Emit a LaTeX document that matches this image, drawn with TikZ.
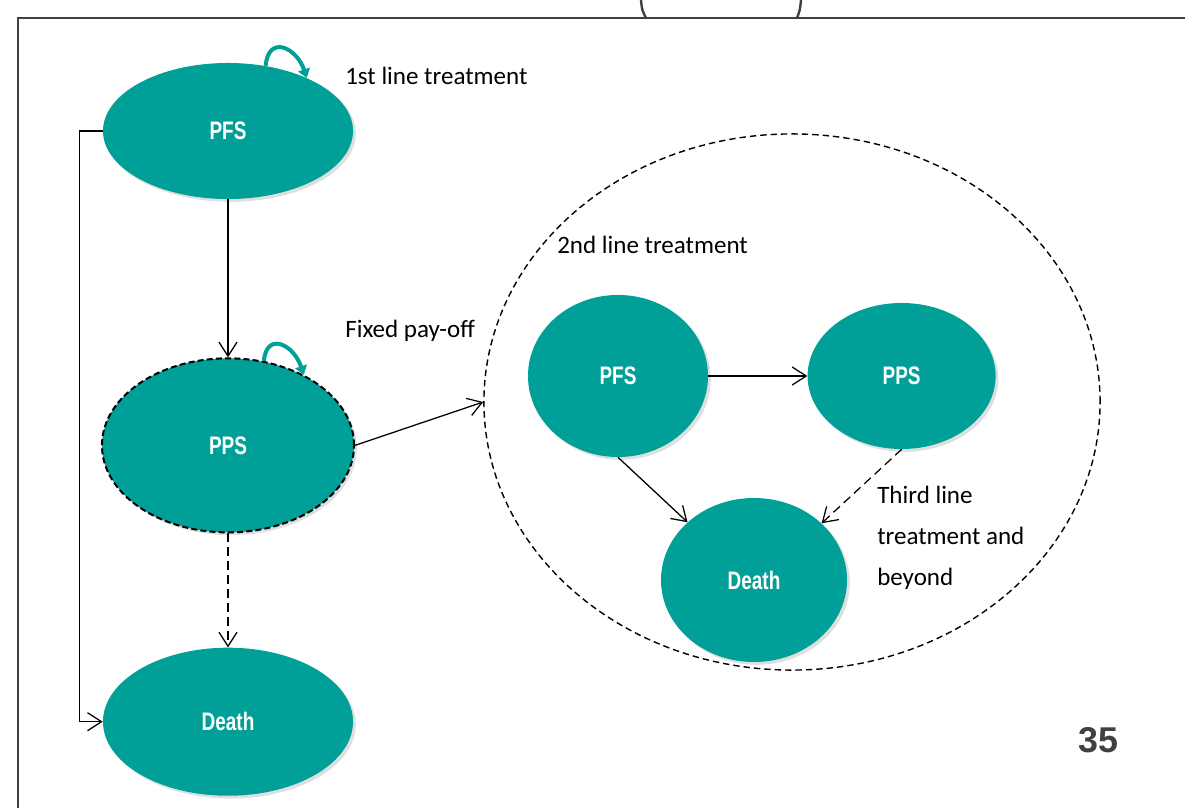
\documentclass[tikz,border=0pt]{standalone}
\usepackage{fontspec}
\setmainfont{Carlito}
\newfontfamily\statefont[FakeStretch=0.75]{Liberation Sans}
\newfontfamily\pagenumfont{Liberation Sans}
\usepackage{tikz}
\usetikzlibrary{shapes.geometric,arrows.meta,positioning,shadows}
\definecolor{stateteal}{HTML}{00A099}
\definecolor{framegray}{HTML}{404040}

\begin{document}
\begin{tikzpicture}[
    x=0.025cm, y=-0.025cm,
    state/.style={ellipse, fill=stateteal, text=white, inner sep=0pt,
                  font=\statefont\bfseries\fontsize{18}{20}\selectfont,
                  drop shadow={shadow xshift=0.07cm, shadow yshift=-0.07cm, opacity=0.25}},
    lbl/.style={inner sep=0pt, font=\fontsize{17.8}{29}\selectfont},
    arrow/.style={-{Straight Barb[length=0.35cm,width=0.45cm]}, line width=0.9pt},
    dasharrow/.style={arrow, dash pattern=on 0.22cm off 0.13cm},
    selfloop/.style={-{Triangle[length=0.22cm,width=0.3cm]}, line width=0.1cm, stateteal},
    pageframe/.style={line width=0.06cm, framegray},
  ]
    \useasboundingbox (0,0) rectangle (1185,808);

    % slide frame
    \draw[pageframe] (18,808) -- (18,18) -- (1185,18);
    \draw[pageframe] (641,0) .. controls (642,10) .. (646,18);
    \draw[pageframe] (801,0) .. controls (800,10) .. (797,18);

    % first line
    \node[state, minimum width=6.25cm, minimum height=3.4cm] (pfs1) at (228,131) {PFS};
    \node[state, minimum width=6.3cm, minimum height=4.35cm, draw=black,
          line width=0.05cm, dash pattern=on 0.15cm off 0.08cm,
          below=3.95cm of pfs1] (pps1) {PPS};
    \node[state, minimum width=6.25cm, minimum height=3.7cm,
          below=2.85cm of pps1] (death1) {Death};

    % second line
    \node[ellipse, draw, line width=0.035cm, dash pattern=on 0.16cm off 0.1cm,
          minimum width=15.4cm, minimum height=13.4cm] (grp) at (792,402) {};
    \node[state, minimum width=4.5cm, minimum height=4.05cm] (pfs2) at (618,376) {PFS};
    \node[state, minimum width=4.7cm, minimum height=3.65cm,
          right=2.475cm of pfs2] (pps2) {PPS};
    \node[state, minimum width=4.65cm, minimum height=4.1cm] (death2) at (754,580) {Death};

    % labels
    \node[lbl, anchor=base west] (lab1) at (345,85) {1st line treatment};
    \node[lbl, anchor=base west] (lab2) at (345,337) {Fixed pay-off};
    \node[lbl, anchor=base west] (lab3) at (557,253) {2nd line treatment};
    \node[lbl, anchor=north west, align=left] (lab4) at (877,486)
         {Third line\\treatment and\\beyond};
    \node[inner sep=0pt, anchor=base, text=framegray,
          font=\pagenumfont\bfseries\fontsize{25.5}{30}\selectfont] (pgno) at (1098,752) {35};

    % transitions
    \draw[selfloop] (pfs1.60) .. controls +(3,-32) and +(-10,-30) .. (pfs1.34);
    \draw[selfloop] (pps1.67) .. controls +(3,-30) and +(-10,-30) .. (pps1.43);
    \draw[arrow] (pfs1.south) -- (pps1.north);
    \draw[dasharrow] (pps1.south) -- (death1.north);
    \draw[arrow] (pfs1.west) -- ++(-23,0) |- (death1.west);
    \draw[arrow] (pps1.east) -- (grp.west);
    \draw[arrow] (pfs2.east) -- (pps2.west);
    \draw[arrow] (pfs2.south) -- (death2.139);
    \draw[dasharrow] (pps2.south) -- (death2.40);
\end{tikzpicture}
\end{document}
